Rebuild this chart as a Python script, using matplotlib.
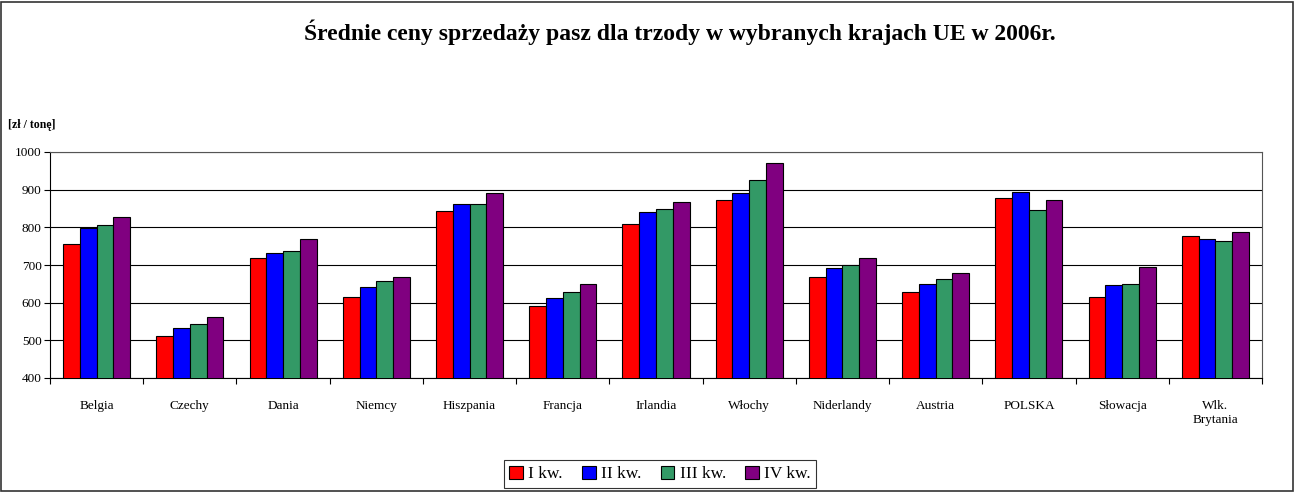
import matplotlib
matplotlib.use("Agg")
import matplotlib.pyplot as plt
import numpy as np
from matplotlib.patches import Rectangle

categories = ["Belgia", "Czechy", "Dania", "Niemcy", "Hiszpania", "Francja", "Irlandia",
              "Włochy", "Niderlandy", "Austria", "POLSKA", "Słowacja", "Wlk.\nBrytania"]
series_names = ["I kw.", "II kw.", "III kw.", "IV kw."]
q1 = [756, 511, 718, 614, 844, 592, 810, 872, 668, 628, 878, 614, 776]
q2 = [799, 532, 733, 642, 861, 612, 840, 891, 692, 650, 894, 646, 769]
q3 = [806, 544, 737, 657, 861, 628, 849, 926, 700, 663, 846, 650, 763]
q4 = [827, 563, 769, 669, 891, 650, 868, 971, 718, 678, 872, 696, 788]
colors = ["#FF0000", "#0000FF", "#339966", "#800080"]
yticks = [400, 500, 600, 700, 800, 900, 1000]

plt.rcParams['font.family'] = ['Liberation Serif', 'DejaVu Serif']

fig = plt.figure(figsize=(12.95, 4.92), dpi=100)
ax = fig.add_axes([50/1295, 1-378/492, (1262-50)/1295, (378-152)/492])

x = np.arange(len(categories))
w = 0.18
for i, (vals, c, name) in enumerate(zip([q1, q2, q3, q4], colors, series_names)):
    ax.bar(x + (i - 1.5) * w, vals, width=w, color=c, edgecolor='black', linewidth=0.8,
           label=name, zorder=3)

ax.set_xlim(-0.5, len(categories) - 0.5)
ax.set_ylim(400, 1000)
ax.set_yticks(yticks)
ax.set_yticklabels([str(t) for t in yticks], fontsize=9.5)
ax.set_xticks(x)
ax.set_xticklabels(categories, fontsize=9.5, va='top')
ax.set_xticks(np.arange(-0.5, len(categories), 1), minor=True)
ax.tick_params(axis='x', which='major', length=0, pad=16)
ax.tick_params(axis='x', which='minor', length=4, direction='out', width=0.8)
ax.tick_params(axis='y', length=4, width=0.8, pad=2)
ax.grid(axis='y', color='black', linewidth=0.8, zorder=0)
for s in ['top', 'right']:
    ax.spines[s].set_color('#555555')
for s in ['left', 'bottom']:
    ax.spines[s].set_color('black')

fig.text(680/1295, 1-32/492, "Średnie ceny sprzedaży pasz dla trzody w wybranych krajach UE w 2006r.",
         ha='center', va='center', fontsize=17, fontweight='bold')
fig.text(8/1295, 1-125/492, "[zł / tonę]", ha='left', va='center', fontsize=8.5, fontweight='bold')

leg = fig.legend(loc='center', bbox_to_anchor=(660/1295, 1-474/492), ncol=4, fontsize=12.5,
                 frameon=True, fancybox=False, edgecolor='black', handlelength=0.8,
                 handleheight=0.8, handletextpad=0.3, columnspacing=1.1, borderpad=0.3)
leg.get_frame().set_linewidth(0.8)

fig.patches.append(Rectangle((1/1295, 1/492), 1-3/1295, 1-3/492, transform=fig.transFigure,
                             fill=False, edgecolor='#333333', linewidth=1.2))

fig.savefig("out.png", dpi=100)
